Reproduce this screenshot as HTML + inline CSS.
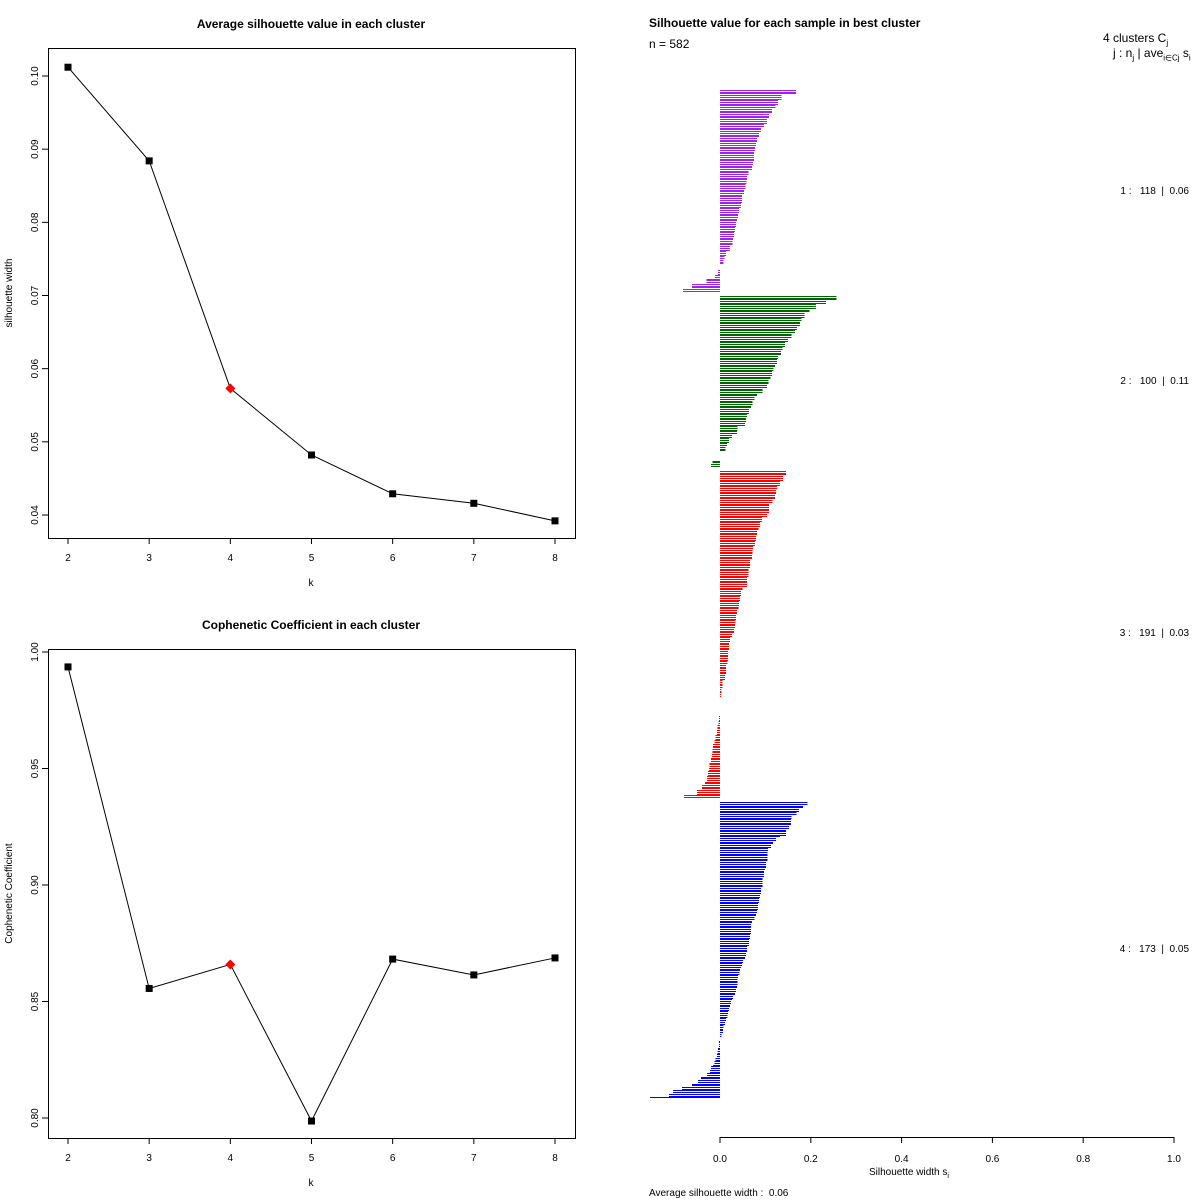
<!DOCTYPE html>
<html><head><meta charset="utf-8">
<style>
html,body{margin:0;padding:0;background:#fff;}
svg{display:block;font-family:"Liberation Sans",sans-serif;}
</style></head>
<body>
<svg id="chart" width="1200" height="1200" viewBox="0 0 1200 1200"></svg>
<script>
// ---- data ----
const kValues = [2,3,4,5,6,7,8];
const silValues = [0.1012,0.0884,0.0573,0.0482,0.0429,0.0416,0.0392];
const copheneticValues = [0.9936,0.8556,0.8659,0.7987,0.8682,0.8614,0.8687];
const bestK = 4;
const silTicks = [0.04,0.05,0.06,0.07,0.08,0.09,0.10];
const copTicks = [0.80,0.85,0.90,0.95,1.00];
const sxTicks = [0,0.2,0.4,0.6,0.8,1.0];
const clusterSizes = [118,100,191,173];
const clusterAvg = ["0.06","0.11","0.03","0.05"];
const clusterColors = ["#a020f0","#006400","#ff0000","#0000ff"];
const cluster1Values = [0.167,0.136,0.128,0.122,0.114,0.108,0.104,0.097,0.09,0.086,0.082,0.079,0.077,0.075,0.075,0.073,0.07,0.063,0.06,0.058,0.056,0.053,0.049,0.048,0.046,0.042,0.04,0.037,0.035,0.033,0.031,0.029,0.027,0.022,0.013,0.01,0.008,0,-0.004,-0.011,-0.03,-0.062,-0.081];
const cluster2Values = [0.257,0.234,0.211,0.197,0.186,0.179,0.176,0.17,0.165,0.158,0.15,0.143,0.138,0.134,0.128,0.125,0.121,0.118,0.114,0.111,0.107,0.103,0.094,0.081,0.076,0.072,0.068,0.064,0.059,0.057,0.055,0.039,0.037,0.026,0.02,0.015,0.012,0,0,-0.017,-0.02];
const cluster3Values = [0.145,0.139,0.132,0.126,0.123,0.121,0.116,0.108,0.108,0.103,0.092,0.088,0.085,0.081,0.079,0.077,0.073,0.072,0.07,0.066,0.066,0.063,0.063,0.059,0.059,0.05,0.046,0.044,0.042,0.041,0.037,0.035,0.034,0.033,0.031,0.026,0.022,0.02,0.02,0.018,0.018,0.016,0.013,0.013,0.011,0.006,0.005,0.003,0.002,0,0,0,0,-0.002,-0.003,-0.005,-0.007,-0.01,-0.012,-0.015,-0.016,-0.018,-0.02,-0.023,-0.024,-0.026,-0.029,-0.033,-0.04,-0.051,-0.079];
const cluster4Values = [0.193,0.183,0.174,0.169,0.158,0.156,0.156,0.152,0.145,0.145,0.132,0.123,0.117,0.112,0.106,0.105,0.105,0.105,0.101,0.101,0.099,0.097,0.097,0.094,0.094,0.094,0.09,0.09,0.088,0.086,0.086,0.084,0.084,0.081,0.079,0.076,0.07,0.068,0.068,0.068,0.066,0.066,0.064,0.064,0.06,0.059,0.057,0.055,0.051,0.048,0.046,0.044,0.043,0.04,0.039,0.039,0.037,0.035,0.033,0.029,0.026,0.024,0.022,0.02,0.018,0.016,0.013,0.011,0.008,0.007,0.007,0.003,0,-0.002,-0.002,-0.004,-0.005,-0.007,-0.01,-0.012,-0.015,-0.02,-0.022,-0.029,-0.042,-0.048,-0.062,-0.084,-0.103,-0.112,-0.154];
const clusterValues = [cluster1Values,cluster2Values,cluster3Values,cluster4Values];

const NS = "http://www.w3.org/2000/svg";
const svg = document.getElementById('chart');
function mk(tag, attrs, parent){
  const e = document.createElementNS(NS, tag);
  for (const k in attrs) e.setAttribute(k, attrs[k]);
  (parent||svg).appendChild(e);
  return e;
}
function txt(s, attrs, parent){ const t = mk('text', attrs, parent); t.textContent = s; return t; }

function linePanel(opts){
  const g = mk('g', {});
  
  
  const L=48,R=575,T=opts.top,B=opts.bottom;
  const x = k => 68 + (k-2)*(555-68)/6;
  const y = v => opts.y0 + (v - opts.v0)*(opts.y1-opts.y0)/(opts.v1-opts.v0);
  const box = mk('rect',{x:L+0.5,y:T+0.5,width:R-L,height:B-T,fill:'none',stroke:'#000','stroke-width':1},g);
  
  
  const title = txt(opts.title,{x:311,y:opts.titleY,'text-anchor':'middle','font-size':12,'font-weight':'bold'},g);
  
  
  kValues.forEach(k=>{
    mk('line',{x1:x(k),x2:x(k),y1:B,y2:B+6,stroke:'#000'},g);
    const t = txt(String(k),{x:x(k),y:B+23,'text-anchor':'middle','font-size':10},g);
    
    
  });
  opts.ticks.forEach(v=>{
    const yy = y(v);
    mk('line',{x1:L-6,x2:L,y1:yy,y2:yy,stroke:'#000'},g);
    const t = txt(v.toFixed(2),{x:38,y:yy,'text-anchor':'middle','font-size':10,transform:`rotate(-90 38 ${yy})`},g);
    
    
  });
  const xl = txt('k',{x:311,y:B+48,'text-anchor':'middle','font-size':10},g);
  
  
  const cy=(T+B)/2;
  const yl = txt(opts.ylab,{x:12,y:cy,'text-anchor':'middle','font-size':10,transform:`rotate(-90 12 ${cy})`},g);
  
  
  const pts = kValues.map((k,i)=>`${x(k)},${y(opts.values[i])}`).join(' ');
  const pl = mk('polyline',{points:pts,fill:'none',stroke:'#000','stroke-width':1},g);
  
  
  kValues.forEach((k,i)=>{
    const px=x(k), py=y(opts.values[i]);
    let m;
    if(k===bestK){
      m = mk('polygon',{points:`${px},${py-5} ${px+5},${py} ${px},${py+5} ${px-5},${py}`,fill:'#ff0000'},g);
      
    } else {
      m = mk('rect',{x:px-3.5,y:py-3.5,width:7,height:7,fill:'#000'},g);
      
    }
    
  });
}
linePanel({name:'silhouette-panel',title:'Average silhouette value in each cluster',titleY:28,top:48,bottom:538,
  v0:0.04,y0:515,v1:0.10,y1:76,ticks:silTicks,values:silValues,ylab:'silhouette width'});
linePanel({name:'cophenetic-panel',title:'Cophenetic Coefficient in each cluster',titleY:629,top:649,bottom:1138,
  v0:0.80,y0:1118,v1:1.00,y1:652,ticks:copTicks,values:copheneticValues,ylab:'Cophenetic Coefficient'});

// ---- silhouette bar plot ----
const sg = mk('g',{});


const sx = v => 720 + v*454;
const per = 1.716;
let startSample = 0;
clusterSizes.forEach((n,ci)=>{
  const vals = clusterValues[ci];
  const top = 90 + startSample*per;
  const cg = mk('g',{fill:clusterColors[ci],'shape-rendering':'crispEdges'},sg);
  
  
  for(let s=0;s<n;s++){
    const v = vals[Math.floor(s*vals.length/n)];
    if(v===0) continue;
    const yy = Math.round(top + s*per);
    const x0 = Math.min(sx(0),sx(v)), w = Math.abs(sx(v)-sx(0));
    const r = mk('rect',{x:x0,y:yy,width:Math.max(w,1),height:1},cg);
    
    
  }
  startSample += n + 2;
});
[190,380,632,948].forEach((ly,i)=>{
  const t = txt(`${i+1} :   ${clusterSizes[i]}  |  ${clusterAvg[i]}`,{x:1189,y:ly+4,'text-anchor':'end','font-size':10,style:'white-space:pre'},sg);
  
  
});
mk('line',{x1:sx(0),x2:sx(1),y1:1137.5,y2:1137.5,stroke:'#000'},sg);
sxTicks.forEach(v=>{
  mk('line',{x1:sx(v),x2:sx(v),y1:1137,y2:1143,stroke:'#000'},sg);
  const t = txt(v.toFixed(1),{x:sx(v),y:1162,'text-anchor':'middle','font-size':10},sg);
  
  
});
</script>
<div style="position:absolute;left:0;top:0;width:1200px;height:1200px;pointer-events:none;font-family:'Liberation Sans',sans-serif;">
  <div style="position:absolute;left:649px;top:16px;font-size:12px;font-weight:bold;white-space:nowrap;">Silhouette value for each sample in best cluster</div>
  <div style="position:absolute;left:649px;top:37px;font-size:12px;white-space:nowrap;">n = 582</div>
  <div style="position:absolute;left:1103px;top:31px;font-size:12px;white-space:nowrap;">4 clusters C<sub style="font-size:8px">j</sub></div>
  <div style="position:absolute;left:1113px;top:46px;font-size:12px;white-space:nowrap;">j : n<sub style="font-size:8px">j</sub> | ave<sub style="font-size:8px">i∈Cj</sub> s<sub style="font-size:8px">i</sub></div>
  <div style="position:absolute;left:869px;top:1167px;font-size:10px;white-space:nowrap;">Silhouette width s<sub style="font-size:7px">i</sub></div>
  <div style="position:absolute;left:649px;top:1188px;font-size:10px;white-space:pre;">Average silhouette width :  0.06</div>
</div>
</body></html>
